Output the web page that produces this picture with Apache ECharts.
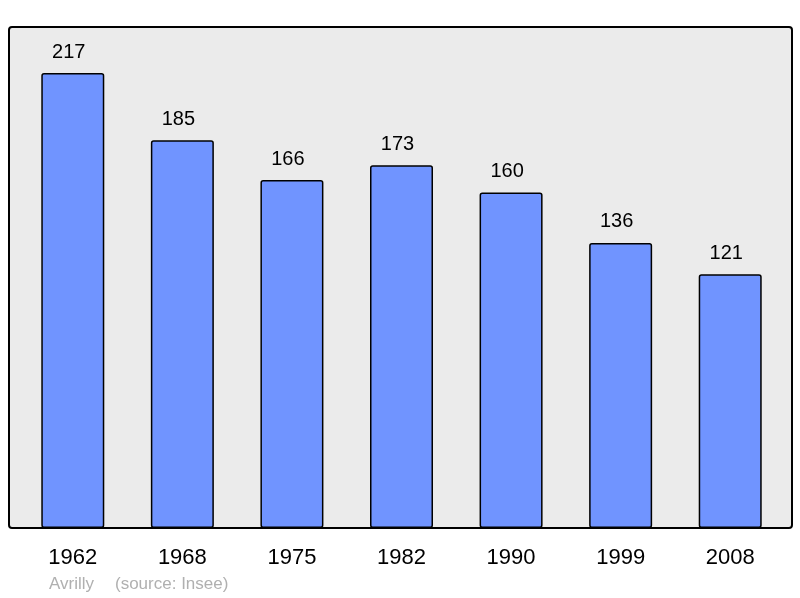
<!DOCTYPE html>
<html>
<head>
<meta charset="utf-8">
<script src="https://cdn.jsdelivr.net/npm/echarts@6/dist/echarts.min.js"></script>
<style>
  html, body { margin: 0; padding: 0; background: #fff; }
  #main { width: 800px; height: 598px; }
</style>
</head>
<body>
<div id="main"></div>
<script>
// population par recensement
const years = ['1962', '1968', '1975', '1982', '1990', '1999', '2008'];
const population = [217, 185, 166, 173, 160, 136, 121];
const placeName = 'Avrilly';
const sourceText = '(source: Insee)';

const myChart = echarts.init(document.getElementById('main'));

const option = {
  animation: false,
  textStyle: { fontFamily: 'Liberation Sans, Arial, sans-serif' },
  // cadre gris derriere les barres
  graphic: [
    {
      type: 'rect',
      z: -10,
      shape: { x: 9, y: 27, width: 783, height: 501, r: 3 },
      style: { fill: '#ebebeb', stroke: '#000', lineWidth: 2 }
    },
    {
      type: 'text',
      left: 49,
      top: 576,
      style: { text: placeName, fill: '#b0b0b0', fontSize: 17, fontFamily: 'Liberation Sans' }
    },
    {
      type: 'text',
      left: 115,
      top: 576,
      style: { text: sourceText, fill: '#b0b0b0', fontSize: 17, fontFamily: 'Liberation Sans' }
    }
  ],
  grid: { left: 18, top: 27, width: 767, height: 501 },
  xAxis: {
    type: 'category',
    data: years,
    axisLine: { show: false },
    axisTick: { show: false },
    axisLabel: { color: '#000', fontSize: 22, margin: 19, fontFamily: 'Liberation Sans' }
  },
  yAxis: {
    type: 'value',
    min: 0,
    max: 239,
    show: false,
    splitLine: { show: false }
  },
  series: [
    {
      type: 'bar',
      data: population,
      barWidth: 63,
      itemStyle: {
        color: '#7094ff',
        borderColor: '#000',
        borderWidth: 1.5,
        borderRadius: 2
      },
      label: {
        show: true,
        position: 'top',
        distance: 11,
        offset: [-4, 0],
        color: '#000',
        fontSize: 20,
        fontFamily: 'Liberation Sans'
      }
    }
  ]
};

myChart.setOption(option);
</script>
</body>
</html>
